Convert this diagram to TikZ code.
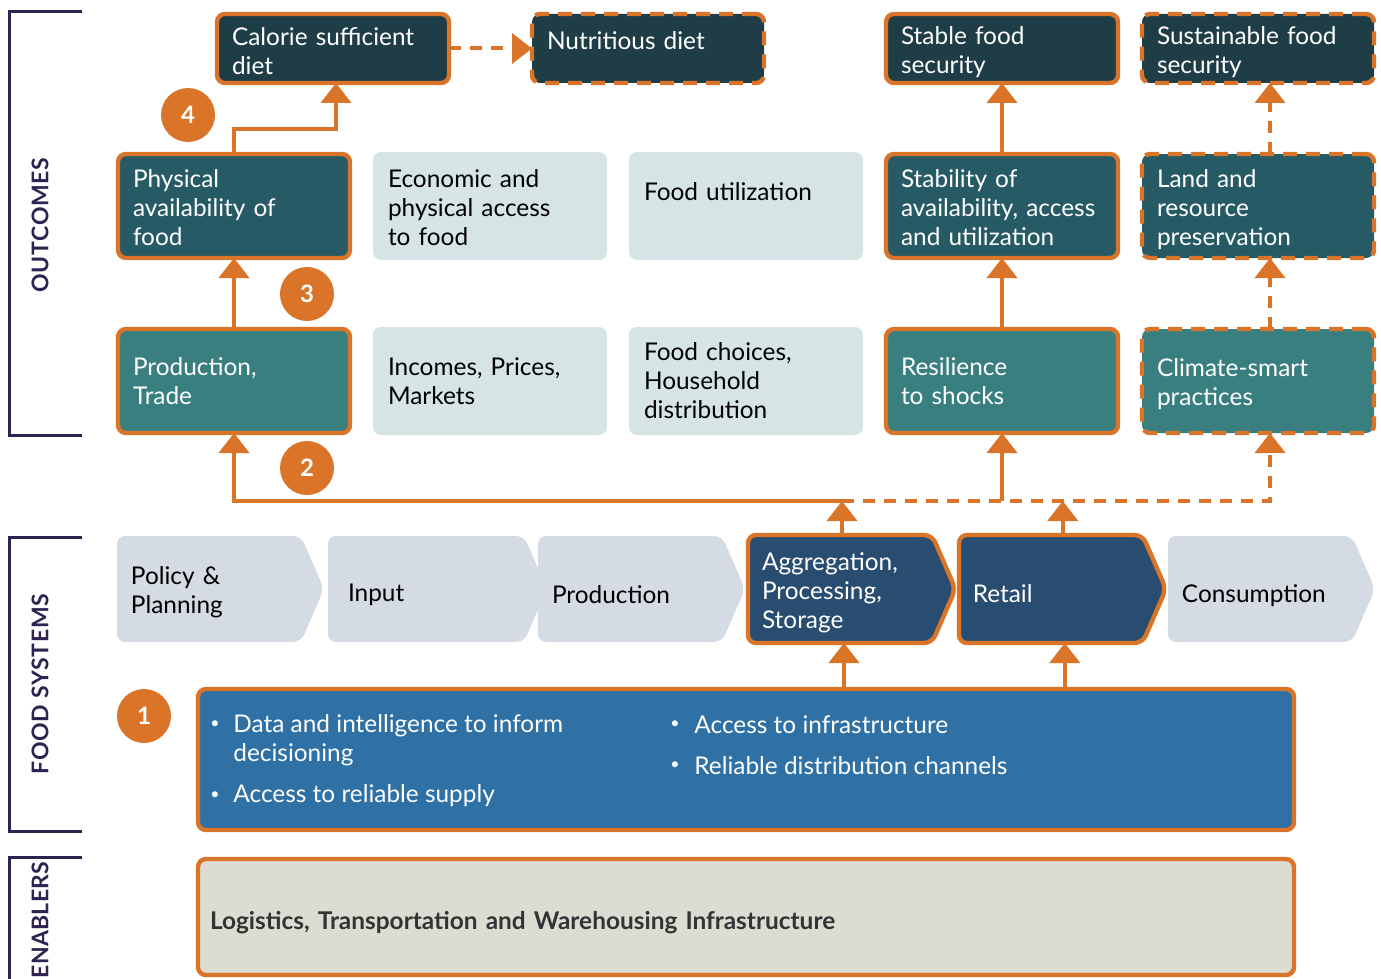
\documentclass[tikz,border=0pt]{standalone}
\usepackage{fontspec}
\setmainfont{Lato}
\usetikzlibrary{arrows.meta,shapes.symbols}

\definecolor{accent}{HTML}{D97428}
\definecolor{goaldark}{HTML}{1F3D46}
\definecolor{pillardark}{HTML}{265A65}
\definecolor{drivteal}{HTML}{3A7F80}
\definecolor{paleteal}{HTML}{D6E4E5}
\definecolor{chevgrey}{HTML}{D5DBE3}
\definecolor{chevnavy}{HTML}{284D70}
\definecolor{capblue}{HTML}{2F71A4}
\definecolor{baseclay}{HTML}{DCDCD3}
\definecolor{bracketink}{HTML}{2F2451}

\newcommand{\boxfont}{\fontsize{12.2}{14.5}\selectfont}

\begin{document}
\begin{tikzpicture}[x=0.5pt,y=-0.5pt,
  cell/.style={rectangle,rounded corners=4pt,anchor=north west,outer sep=0pt,minimum width=116pt,
    minimum height=52pt,text width=101pt,inner xsep=7.5pt,align=left,font=\boxfont},
  goal/.style={cell,minimum height=34.5pt,inner ysep=1pt,fill=goaldark,text=white},
  pillar/.style={cell,fill=pillardark,text=white},
  driver/.style={cell,fill=drivteal,text=white},
  pale/.style={cell,minimum width=117pt,text width=102pt,minimum height=54pt,fill=paleteal,text=black},
  solidedge/.style={draw=accent,line width=2.2pt},
  dashedge/.style={draw=accent,line width=2.2pt,dash pattern=on 7pt off 4.5pt},
  stage/.style={signal,signal to=east,signal pointer angle=133,rounded corners=4pt,anchor=west,outer sep=0pt,
    minimum width=103.5pt,minimum height=53pt,text width=78pt,inner xsep=6pt,align=left,font=\boxfont,
    text height=15pt},
  link/.style={draw=accent,line width=2pt},
  dashes/.style={dash pattern=on 6pt off 4.5pt},
  tip/.style={-{Triangle[width=15pt,length=10pt]}},
  badge/.style={circle,fill=accent,text=white,minimum size=27pt,inner sep=0pt,font=\bfseries\fontsize{12}{12}\selectfont},
  side/.style={rotate=90,text=bracketink,font=\bfseries\fontsize{11.5}{12}\selectfont\addfontfeatures{LetterSpace=3}},
  bul/.style={text=white,inner sep=0pt,font=\fontsize{8}{8}\selectfont},
  itm/.style={anchor=west,text=white,align=left,inner sep=0pt,font=\boxfont}
]
\useasboundingbox (0,0) rectangle (1381,979);

% brackets on the left
\draw[bracketink,line width=1.5pt] (82,12) -- (9,12) -- (9,435) -- (82,435);
\draw[bracketink,line width=1.5pt] (82,537) -- (9,537) -- (9,831) -- (82,831);
\draw[bracketink,line width=1.5pt] (82,857) -- (9,857) -- (9,985);
\node[side] (lblout) at (40,225) {OUTCOMES};
\node[side] (lblfood) at (40,684) {FOOD SYSTEMS};
\node[side,font=\bfseries\fontsize{11.5}{12}\selectfont\addfontfeatures{LetterSpace=1}] (lblenab) at (40,920) {ENABLERS};

% outcomes
\node[goal,solidedge,text height=12pt] (cal) at (217,14) {Calorie sufficient\\diet};
\node[goal,dashedge,text depth=8pt] (nut) at (532,14) {Nutritious diet};
\node[goal,solidedge,text height=12.5pt] (sta) at (886,14) {Stable food\\security};
\node[goal,dashedge,text height=12.5pt] (sus) at (1142,14) {Sustainable food\\security};

\node[pillar,solidedge,text height=11pt] (phys) at (118,154) {Physical\\availability of\\food};
\node[pale,text height=11pt] (econ) at (373,152) {Economic and\\physical access\\to food};
\node[pale,text depth=14pt] (util) at (629,152) {Food utilization};
\node[pillar,solidedge,text height=11pt] (stab) at (886,154) {Stability of\\availability, access\\and utilization};
\node[pillar,dashedge,text height=13pt] (land) at (1142,154) {Land and\\resource\\preservation};

\node[driver,solidedge] (prod) at (118,329) {Production,\\Trade};
\node[pale] (inc) at (373,327) {Incomes, Prices,\\Markets};
\node[pale] (choi) at (629,327) {Food choices,\\Household\\distribution};
\node[driver,solidedge] (res) at (886,329) {Resilience\\to shocks};
\node[driver,dashedge,text height=12pt] (clim) at (1142,329) {Climate-smart\\practices};

% food system stages
\node[stage,fill=chevgrey,text height=12pt] (pol) at (117,589) {Policy \&\\Planning};
\node[stage,fill=chevgrey,inner xsep=10pt] (inp) at (328,589) {Input};
\node[stage,fill=chevgrey,inner xsep=7pt] (pro) at (538,589) {Production};
\node[stage,fill=chevnavy,text=white,solidedge,minimum height=54pt,inner xsep=7pt,text height=13pt] (agg) at (748,589) {Aggregation,\\Processing,\\Storage};
\node[stage,fill=chevnavy,text=white,solidedge,minimum height=54pt,text height=14pt] (ret) at (959,589) {Retail};
\node[stage,fill=chevgrey,text height=16pt] (con) at (1168,589) {Consumption};

% capabilities and enablers
\node[solidedge,fill=capblue,rounded corners=4pt,anchor=north west,outer sep=0pt,minimum width=548pt,minimum height=70.5pt] (cap) at (198,689) {};
\node[bul] (b1) at (215,725) {•};
\node[itm] (i1) at (233,740) {Data and intelligence to inform\\decisioning};
\node[bul] (b2) at (215,796) {•};
\node[itm] (i2) at (233,796) {Access to reliable supply};
\node[bul] (b3) at (675,725) {•};
\node[itm] (i3) at (694,725) {Access to infrastructure};
\node[bul] (b4) at (675,766) {•};
\node[itm] (i4) at (694,766) {Reliable distribution channels};

\node[solidedge,fill=baseclay,rounded corners=4pt,anchor=north west,outer sep=0pt,minimum width=548pt,minimum height=58pt,
  text width=536pt,inner xsep=6pt,align=left,font=\bfseries\boxfont,text=black!80,text height=15pt] (infra) at (198,859)
  {Logistics, Transportation and Warehousing Infrastructure};

% numbered steps
\node[badge] (n1) at (144,716) {1};
\node[badge] (n2) at (307,468) {2};
\node[badge] (n3) at (307,294) {3};
\node[badge] (n4) at (188,115) {4};

% connectors
\coordinate (bus) at (0,501);
\draw[link,tip] ([xshift=1pt]agg.north |- bus) -| (prod.south);
\draw[link,tip,dashes] ([xshift=1pt]agg.north |- bus) -| ([xshift=6pt]clim.south);
\draw[link,tip] (res.south |- bus) -- (res.south);
\draw[link,tip] ([xshift=1pt]agg.north) -- ([xshift=1pt]agg.north |- bus);
\draw[link,tip] ([xshift=6pt]ret.north) -- ([xshift=6pt]ret.north |- bus);
\draw[link,tip] ([xshift=2pt]agg.south |- cap.north) -- ([xshift=2pt]agg.south);
\draw[link,tip] ([xshift=7pt]ret.south |- cap.north) -- ([xshift=7pt]ret.south);

\draw[link,tip] (prod.north) -- (phys.south);
\draw[link,tip] (phys.north) -- ++(0,-25) -| ([xshift=1.5pt]cal.south);
\draw[link,tip,dashes] (cal.east) -- (nut.west);
\draw[link,tip] (res.north) -- (stab.south);
\draw[link,tip] (stab.north) -- (sta.south);
\draw[link,tip,dashes] ([xshift=6pt]clim.north) -- ([xshift=6pt]land.south);
\draw[link,tip,dashes] ([xshift=6pt]land.north) -- ([xshift=6pt]sus.south);
\end{tikzpicture}
\end{document}
